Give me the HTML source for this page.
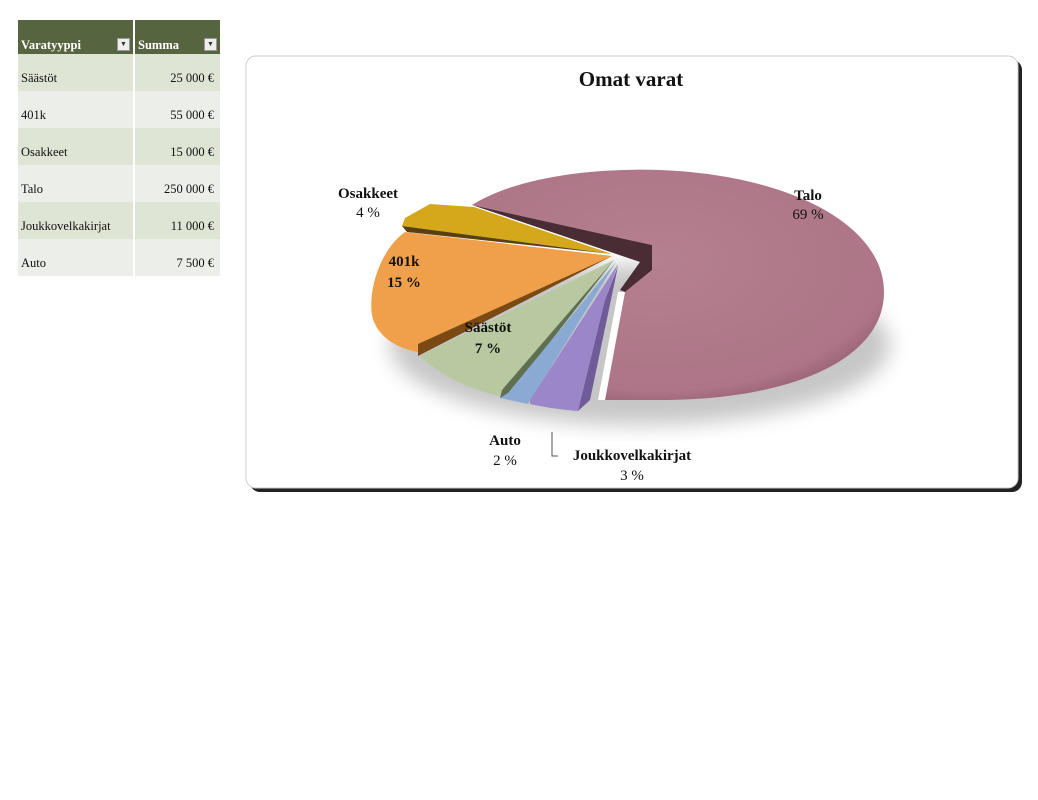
<!DOCTYPE html>
<html><head><meta charset="utf-8"><style>
body{margin:0;width:1038px;height:800px;background:#fff;overflow:hidden;position:relative;font-family:"Liberation Serif",serif}
table{position:absolute;left:18px;top:20px;border-collapse:collapse;font-size:12.5px;color:#111}
td,th{height:37px;padding:0 3px;vertical-align:bottom;padding-bottom:5px;box-sizing:border-box}
th{background:#56653f;color:#fff;text-align:left;font-weight:bold;height:34px;padding-bottom:1px;position:relative}
th .dd{position:absolute;right:3px;bottom:3px;width:11px;height:11px;background:#eee;border:1px solid #999;font-size:7px;color:#333;text-align:center;line-height:11px}
td:first-child,th:first-child{width:116px;border-right:2px solid #fff}
td:last-child,th:last-child{width:86px;text-align:right;padding-right:6px}
th:last-child{text-align:left}
tr.a td{background:#dfe5d5}tr.b td{background:#eceee9}
</style></head><body>
<table>
<tr><th>Varatyyppi<span class="dd">▼</span></th><th>Summa<span class="dd">▼</span></th></tr>
<tr class="a"><td>Säästöt</td><td>25 000 €</td></tr>
<tr class="b"><td>401k</td><td>55 000 €</td></tr>
<tr class="a"><td>Osakkeet</td><td>15 000 €</td></tr>
<tr class="b"><td>Talo</td><td>250 000 €</td></tr>
<tr class="a"><td>Joukkovelkakirjat</td><td>11 000 €</td></tr>
<tr class="b"><td>Auto</td><td>7 500 €</td></tr>
</table>
<svg width="1038" height="800" style="position:absolute;left:0;top:0">
<defs>
<filter id="bl"><feGaussianBlur stdDeviation="10"/></filter>
<radialGradient id="tg" cx="0.45" cy="0.4" r="0.7"><stop offset="0" stop-color="#b5808f"/><stop offset="0.8" stop-color="#ad7587"/><stop offset="1" stop-color="#8a5566"/></radialGradient>
</defs>
<rect x="250" y="60" width="772" height="432" rx="10" fill="#222"/>
<rect x="246" y="56" width="772" height="432" rx="10" fill="#fff" stroke="#ccc"/>
<text x="631" y="86" font-size="21" font-weight="bold" text-anchor="middle" fill="#111">Omat varat</text>
<ellipse cx="640" cy="345" rx="250" ry="80" fill="#999" opacity="0.55" filter="url(#bl)"/>
<path d="M472,205 C520,175 600,168 660,170 C790,175 884,225 884,292 C884,360 790,400 660,400 L605,400 L625,292 L652,270 L652,245 Z" fill="url(#tg)"/>
<path d="M472,205 L652,245 L652,270 L625,292 L620,290 L640,262 Z" fill="#4a2c35"/>
<path d="M625,292 L605,400 L598,400 L618,292 Z" fill="#fff"/>
<path d="M612,254 L474,207 L430,204 L405,218 L402,226 Z" fill="#d4a81a"/>
<path d="M612,254 L402,226 L407,232 Z" fill="#5a4010"/>
<path d="M612,256 L405,232 C380,250 368,290 372,315 C376,335 395,348 418,352 L418,348 Z" fill="#f0a04a"/>
<path d="M612,256 L418,344 L418,356 Z" fill="#7a4a15"/>
<path d="M614,260 L420,356 C440,375 470,390 500,396 L502,390 Z" fill="#b8c8a0"/>
<path d="M614,260 L502,390 L500,398 L508,396 Z" fill="#5f7050"/>
<path d="M616,262 L508,393 L500,398 L528,404 Z" fill="#8aaad4"/>
<path d="M618,264 L530,400 L530,404 C548,408 565,410 578,411 L605,300 Z" fill="#9a86c8"/>
<path d="M605,300 L578,411 L590,400 L618,266 Z" fill="#6f5b98"/>
<g font-size="15" font-weight="bold" fill="#111" text-anchor="middle">
<text x="368" y="198">Osakkeet</text><text x="368" y="217" font-weight="normal">4 %</text>
<text x="404" y="266">401k</text><text x="404" y="287">15 %</text>
<text x="488" y="332">Säästöt</text><text x="488" y="353">7 %</text>
<text x="808" y="200">Talo</text><text x="808" y="219" font-weight="normal">69 %</text>
<text x="505" y="445">Auto</text><text x="505" y="465" font-weight="normal">2 %</text>
<text x="632" y="460">Joukkovelkakirjat</text><text x="632" y="480" font-weight="normal">3 %</text>
</g>
<path d="M552,432 L552,456 L558,456" stroke="#555" fill="none"/>
</svg>
</body></html>
